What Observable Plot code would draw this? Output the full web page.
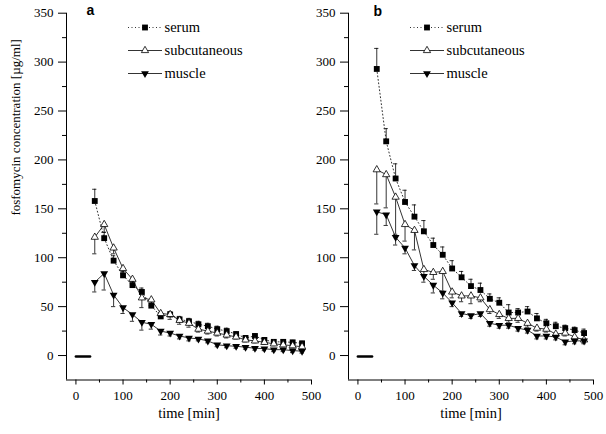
<!DOCTYPE html>
<html>
<head>
<meta charset="utf-8">
<script src="https://cdn.jsdelivr.net/npm/d3@7"></script>
<script src="https://cdn.jsdelivr.net/npm/@observablehq/plot@0.6"></script>
<style>
  html, body { margin: 0; padding: 0; background: #fff; }
  #wrap { position: relative; width: 606px; height: 434px; overflow: hidden; background: #fff; }
  #wrap > div { position: absolute; top: 0; }
</style>
</head>
<body>
<div id="wrap"><div id="pa"></div><div id="pb"></div></div>
<script>
// ---- data ----
const times = [40,60,80,100,120,140,160,180,200,220,240,260,280,300,320,340,360,380,400,420,440,460,480];

const serumA     = [158,120,97,82,72,65,51,40,42,37,35,32,30,27,25,22,18,20,16,14,14,13.5,12.5];
const serumAErr  = [12,6,5,4,4,4,4,4,3,3,3,3,3,3,3,2,2,2,2,2,2,2,2];
const subcA      = [121,134,110,89,78,59,57,43,42,36,33,27,25,23,21,19,16,15,13.5,12,11,10,9];
const subcAErr   = [17,8,6,5,4,10,6,5,5,4,4,3,3,3,3,2,2,2,2,2,2,2,2];
const muscleA    = [75,84,62,49,42,34,32,25,23,20,18,17,15,11,10,9.5,8.5,7.5,7,6,6,5,4.5];
const muscleAErr = [10,17,12,6,7,8,5,4,3,3,3,2,2,2,2,2,2,2,2,2,2,2,2];

const serumB     = [293,219,181,157,142,127,113,103,89,80,71,67,58,54,44,44,45,38,33,30,28,26,23];
const serumBErr  = [21,13,15,12,12,11,7,8,8,6,7,7,5,5,8,4,5,5,4,4,3,3,4];
const subcB      = [190,185,162,134,128,88,85,86,65,61,61,59,47,42,38,38,33,28,27,22,23,19,16];
const subcBErr   = [35,34,38,17,20,5,7,20,6,6,8,4,4,4,4,4,4,3,3,3,3,3,3];
const muscleB    = [147,144,121,110,92,81,72,64,54,43,41,43,33,31,31,28,26,20,20,19,14,15,15];
const muscleBErr = [23,11,8,6,5,6,8,6,4,3,3,3,3,3,3,3,3,3,3,3,3,3,3];

const baselineTimes  = [0, 30];
const baselineValues = [-1, -1];

const xDomain = [-20, 500];
const yDomain = [-25, 350];
const xTicks = [0,100,200,300,400,500];
const xMinorTicks = [50,150,250,350,450];
const yTicks = [0,50,100,150,200,250,300,350];
const yMinorTicks = [25,75,125,175,225,275,325];

const seriesNames = ["serum", "subcutaneous", "muscle"];
const xLabel = "time [min]";
const yLabel = "fosfomycin concentration [µg/ml]";

// ---- drawing ----
const SERIF = "'Liberation Serif', 'Times New Roman', Times, serif";
const SANS = "'Liberation Sans', Arial, sans-serif";

function rows(values, errs) {
  return times.map((t, i) => ({t, v: values[i], e: errs[i]}));
}

function panel(el, o) {
  const S = rows(o.serum, o.serumErr);
  const C = rows(o.subc, o.subcErr);
  const M = rows(o.muscle, o.muscleErr);
  const base = baselineTimes.map((t, i) => ({t, v: baselineValues[i]}));
  const cap = 4.5;
  const ew = 0.8;
  const marks = [
    Plot.ruleX([xDomain[0]], {stroke: "#000", strokeWidth: 1}),
    Plot.ruleY([yDomain[0]], {stroke: "#000", strokeWidth: 1}),
    Plot.axisY({ticks: yTicks, tickSize: 8, tickPadding: 5, label: null, fontSize: 13}),
    Plot.axisY({ticks: yMinorTicks, tickSize: 4, tickFormat: () => "", label: null}),
    Plot.axisX({ticks: xTicks, tickSize: 5, tickPadding: 5.5, label: null, fontSize: 13}),
    Plot.axisX({ticks: xMinorTicks, tickSize: 3, tickFormat: () => "", label: null}),
    Plot.text([xLabel], {frameAnchor: "bottom", lineAnchor: "middle", dy: 33, fontSize: 14.5}),
    Plot.text([o.letter], {frameAnchor: "top-left", lineAnchor: "middle", textAnchor: "start",
      dx: o.letterDx, dy: o.letterDy, fontWeight: "bold", fontSize: 14}),
    // error bars
    Plot.ruleX(S, {x: "t", y1: "v", y2: d => d.v + d.e, strokeWidth: ew}),
    Plot.ruleY(S, {y: d => d.v + d.e, x1: d => d.t - cap, x2: d => d.t + cap, strokeWidth: ew}),
    Plot.ruleX(C, {x: "t", y1: "v", y2: d => d.v - d.e, strokeWidth: ew}),
    Plot.ruleY(C, {y: d => d.v - d.e, x1: d => d.t - cap, x2: d => d.t + cap, strokeWidth: ew}),
    Plot.ruleX(M, {x: "t", y1: "v", y2: d => d.v - d.e, strokeWidth: ew}),
    Plot.ruleY(M, {y: d => d.v - d.e, x1: d => d.t - cap, x2: d => d.t + cap, strokeWidth: ew}),
    // lines
    Plot.line(base, {x: "t", y: "v", stroke: "#000", strokeWidth: 2.6}),
    Plot.line(S, {x: "t", y: "v", stroke: "#333", strokeWidth: 1, strokeDasharray: "1,2.5"}),
    Plot.line(C, {x: "t", y: "v", stroke: "#000", strokeWidth: 0.8}),
    Plot.line(M, {x: "t", y: "v", stroke: "#000", strokeWidth: 0.8}),
    // markers
    Plot.dot(S, {x: "t", y: "v", symbol: "square", r: 3.3, fill: "#000", stroke: "none"}),
    Plot.dot(C, {x: "t", y: "v", symbol: "triangle", r: 2.7, fill: "#fff", stroke: "#000", strokeWidth: 0.8}),
    Plot.dot(M, {x: "t", y: "v", symbol: "triangle", r: 2.9, fill: "#000", stroke: "none", rotate: 180})
  ];
  if (o.showYLabel) {
    marks.push(Plot.text([yLabel], {frameAnchor: "left", lineAnchor: "middle", rotate: -90, dx: -51, dy: 19,
      fontSize: 13}));
  }
  const svg = Plot.plot({
    width: o.width,
    height: 434,
    marginLeft: o.marginLeft,
    marginRight: o.marginRight,
    marginTop: 12.7,
    marginBottom: 54.5,
    x: {domain: xDomain},
    y: {domain: yDomain},
    style: {background: "transparent", overflow: "visible", color: "#000"},
    marks
  });
  d3.select(svg).attr("font-family", SERIF).style("font-family", SERIF);
  d3.select(svg).selectAll("text").each(function() {
    d3.select(this).style("font-family", this.textContent === o.letter ? SANS : SERIF);
  });
  // legend
  const g = d3.select(svg).append("g");
  const rowsY = [27.5, 50.5, 73.5];
  const x0 = o.marginLeft + 62, x1 = o.marginLeft + 96, xs = (x0 + x1) / 2, xt = o.marginLeft + 98.5;
  const types = [d3.symbolSquare, d3.symbolTriangle, d3.symbolTriangle];
  const rs = [3.3, 2.7, 2.9];
  seriesNames.forEach((name, i) => {
    const y = rowsY[i];
    g.append("line").attr("x1", x0).attr("x2", x1).attr("y1", y).attr("y2", y)
      .attr("stroke", i === 0 ? "#333" : "#000")
      .attr("stroke-width", i === 0 ? 1 : 0.8)
      .attr("stroke-dasharray", i === 0 ? "1,2.5" : null);
    const p = g.append("path")
      .attr("d", d3.symbol(types[i], Math.PI * rs[i] * rs[i])())
      .attr("transform", `translate(${xs},${y})` + (i === 2 ? " rotate(180)" : ""));
    if (i === 1) p.attr("fill", "#fff").attr("stroke", "#000").attr("stroke-width", 0.8);
    else p.attr("fill", "#000");
    g.append("text").attr("x", xt).attr("y", y).attr("dy", "0.32em")
      .attr("text-anchor", "start")
      .style("font-family", SERIF)
      .attr("font-size", 14.5).attr("fill", "#000").text(name);
  });
  el.style.left = o.left + "px";
  el.appendChild(svg);
}

panel(document.getElementById("pa"), {
  letter: "a", serum: serumA, serumErr: serumAErr, subc: subcA, subcErr: subcAErr,
  muscle: muscleA, muscleErr: muscleAErr,
  left: 0, width: 320, marginLeft: 66, marginRight: 9, letterDx: 20, letterDy: -2.5, showYLabel: true
});
panel(document.getElementById("pb"), {
  letter: "b", serum: serumB, serumErr: serumBErr, subc: subcB, subcErr: subcBErr,
  muscle: muscleB, muscleErr: muscleBErr,
  left: 300, width: 306, marginLeft: 48, marginRight: 13, letterDx: 25, letterDy: -2, showYLabel: false
});
</script>
</body>
</html>
